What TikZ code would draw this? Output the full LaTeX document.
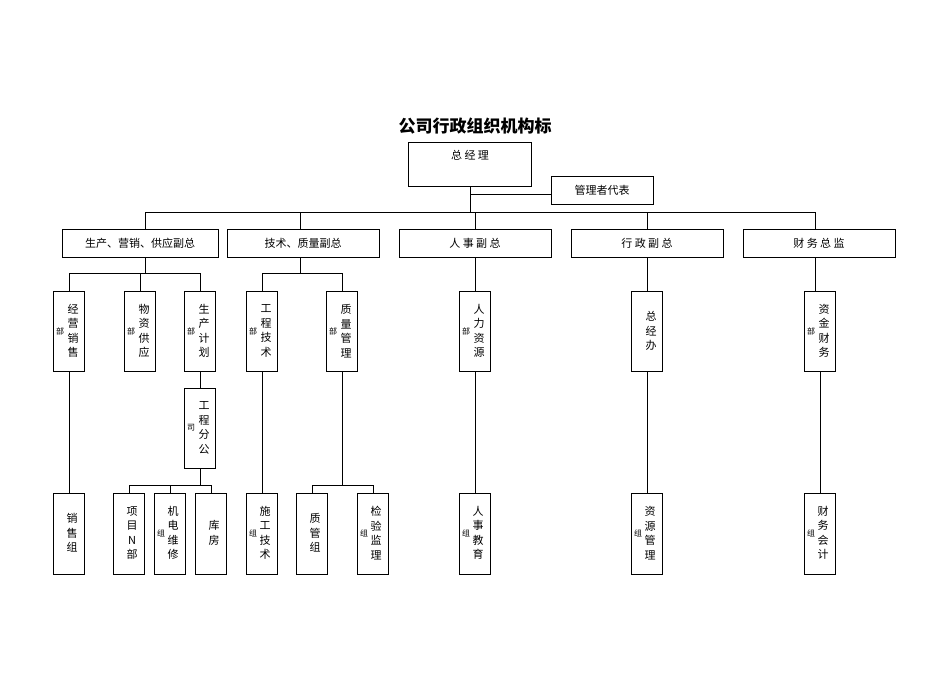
\documentclass[tikz,border=0pt]{standalone}
\usepackage{fontspec}
\newfontfamily\cjk{Noto Sans CJK SC}
\begin{document}
\begin{tikzpicture}[x=1pt,y=-1pt,
  box/.style={draw,thick,inner sep=0pt,font=\cjk\fontsize{11}{14}\selectfont},
  side/.style={font=\cjk\fontsize{8}{9}\selectfont,inner sep=0pt},
  col/.style={font=\cjk\fontsize{11}{14.5}\selectfont,align=center,inner sep=0pt},
  link/.style={thick}]
\useasboundingbox (0,0) rectangle (950,672);
\node[font=\cjk\bfseries\fontsize{17}{20}\selectfont] (title) at (475,126) {公司行政组织机构标};
% top
\draw[box] (408,142) rectangle (531,186);
\node[box,draw=none] (gm) at (470,155) {总 经 理};
\draw[box] (551,176) rectangle (653,204);
\node[box,draw=none] (rep) at (602,190) {管理者代表};
\draw[link] (470,186) -- (470,212);
\draw[link] (470,194) -- (551,194);
\draw[link] (145,212) -- (815,212);
% second level
\foreach \xa/\xb/\xc/\txt in {62/218/145/{生产、营销、供应副总},227/379/300/{技术、质量副总},
  399/551/475/{人 事 副 总},571/723/647/{行 政 副 总},743/895/815/{财 务 总 监}}{
  \draw[link] (\xc,212) -- (\xc,229);
  \draw[box] (\xa,229) rectangle (\xb,257);
  \node[box,draw=none] at ({(\xa+\xb)/2},243) {\txt};
}
\draw[link] (145,257) -- (145,273) (69,273) -- (200,273);
\draw[link] (300,257) -- (300,273) (262,273) -- (342,273);
\foreach \x in {69,140,200,262,342} \draw[link] (\x,273) -- (\x,291);
\draw[link] (475,257) -- (475,291);
\draw[link] (647,257) -- (647,291);
\draw[link] (815,257) -- (815,291);
% third level
\foreach \xc/\ya/\yb/\txt/\sd in {69/291/371/{经\\营\\销\\售}/部,140/291/371/{物\\资\\供\\应}/部,
  200/291/371/{生\\产\\计\\划}/部,262/291/371/{工\\程\\技\\术}/部,342/291/371/{质\\量\\管\\理}/部,
  475/291/371/{人\\力\\资\\源}/部,647/291/371/{总\\经\\办}/{},820/291/371/{资\\金\\财\\务}/部,
  200/388/468/{工\\程\\分\\公}/司}{
  \draw[box] (\xc-15.5,\ya) rectangle (\xc+15.5,\yb);
  \node[col] at (\xc+4,{(\ya+\yb)/2}) {\txt};
  \node[side] at (\xc-9,{(\ya+\yb)/2}) {\sd};
}
\draw[link] (200,371) -- (200,388);
% bottom level
\draw[link] (200,468) -- (200,485) (129,485) -- (211,485);
\draw[link] (342,371) -- (342,485) (312,485) -- (373,485);
\foreach \x/\yt in {69/371,262/371,475/371,647/371,820/371,129/485,170/485,211/485,312/485,373/485}
  \draw[link] (\x,\yt) -- (\x,493);
\foreach \xc/\txt/\sd in {69/{销\\售\\组}/{},129/{项\\目\\N\\部}/{},170/{机\\电\\维\\修}/组,
  211/{库\\房}/{},262/{施\\工\\技\\术}/组,312/{质\\管\\组}/{},373/{检\\验\\监\\理}/组,
  475/{人\\事\\教\\育}/组,647/{资\\源\\管\\理}/组,820/{财\\务\\会\\计}/组}{
  \draw[box] (\xc-15.5,493) rectangle (\xc+15.5,574);
  \node[col] at (\xc+3,533) {\txt};
  \node[side] at (\xc-9,533) {\sd};
}
\end{tikzpicture}
\end{document}
